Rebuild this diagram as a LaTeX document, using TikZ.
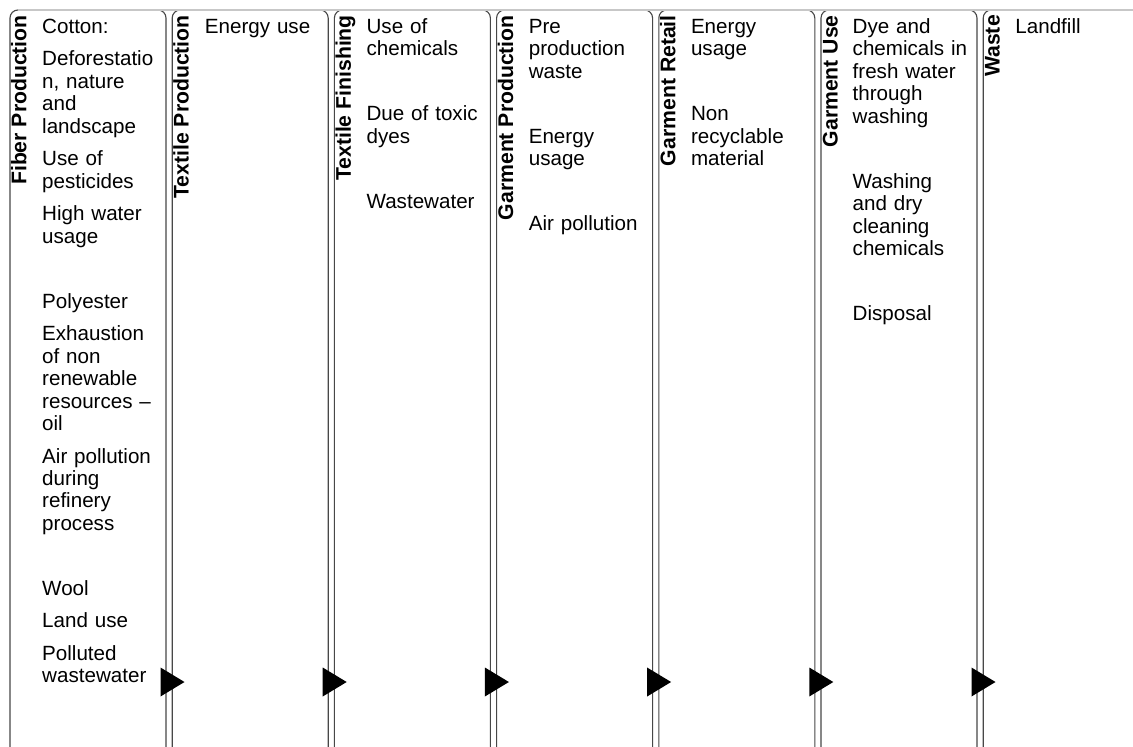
\documentclass[tikz,border=0pt]{standalone}
\usepackage{fontspec}
\setmainfont{Liberation Sans}
\newcommand{\ig}{\\[10pt]}
\newcommand{\eg}{\\[42.5pt]}
\tikzset{
  colline/.style={draw=black!72, line width=1.1pt},
  topline/.style={draw=black!22, line width=1.3pt},
  stagetitle/.style={rotate=90, anchor=base east, inner sep=0pt, text=black,
    font=\fontsize{21.2}{22}\selectfont\bfseries},
  items/.style={anchor=base west, inner sep=0pt, text width=140pt, align=left, text=black,
    font=\fontsize{20.6}{22.5}\selectfont},
  flow/.style={fill=black},
}
\begin{document}
\begin{tikzpicture}[x=1pt, y=-1pt]
\useasboundingbox (0,0) rectangle (1133,747);
% column frames
\foreach \i in {1,...,6} {
  \pgfmathsetmacro\L{10+162.2*(\i-1)}
  \pgfmathsetmacro\R{\L+156}
  \draw[colline, rounded corners=8pt] (\L,747) -- (\L,10) -- (\R,10) -- (\R,747);
  \coordinate (r\i) at (\R,682);
}
\draw[colline, rounded corners=8pt] (983.2,747) -- (983.2,10) -- (1133,10);
\draw[topline] (18,10) -- (1133,10);
% flow arrows
\foreach \i in {1,...,6} {
  \fill[flow] (r\i) ++(-5.5,-14.5) -- ++(0,29) -- ++(24,-14.5) -- cycle;
}
% titles
\node[stagetitle] (t1) at (26.5,15) {Fiber Production};
\node[stagetitle] (t2) at (188.7,15) {Textile Production};
\node[stagetitle] (t3) at (350.9,15) {Textile Finishing};
\node[stagetitle] (t4) at (513.1,15) {Garment Production};
\node[stagetitle] (t5) at (675.3,15) {Garment Retail};
\node[stagetitle] (t6) at (837.5,15) {Garment Use};
\node[stagetitle] (t7) at (999.7,15) {Waste};
% items
\node[items] (i1) at (42,33) {Cotton:\ig Deforestatio\\n, nature\\and\\landscape\ig Use of\\pesticides\ig High water\\usage\eg Polyester\ig Exhaustion\\of non\\renewable\\resources –\\oil\ig Air pollution\\during\\refinery\\process\eg Wool\ig Land use\ig Polluted\\wastewater};
\node[items] (i2) at (204.7,33) {Energy use};
\node[items] (i3) at (366.4,33) {Use of\\chemicals\eg Due of toxic\\dyes\eg Wastewater};
\node[items] (i4) at (528.6,33) {Pre\\production\\waste\eg Energy\\usage\eg Air pollution};
\node[items] (i5) at (690.8,33) {Energy\\usage\eg Non\\recyclable\\material};
\node[items] (i6) at (852.5,33) {Dye and\\chemicals in\\fresh water\\through\\washing\eg Washing\\and dry\\cleaning\\chemicals\eg Disposal};
\node[items] (i7) at (1015.2,33) {Landfill};
\end{tikzpicture}
\end{document}
